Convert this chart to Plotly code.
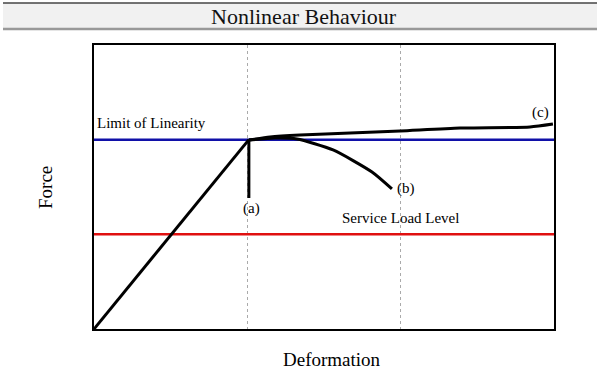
import plotly.graph_objects as go

# Data (axis units: deformation 0-3, force 0-3)
limit_of_linearity = 2.0
service_load_level = 1.0

linear_x = [0.0, 1.01]
linear_y = [0.0, 2.0]

curve_a_x = [1.01, 1.01]
curve_a_y = [2.0, 1.384]

curve_b_x = [1.011, 1.18, 1.324, 1.559, 1.813, 1.943]
curve_b_y = [1.996, 2.017, 2.007, 1.891, 1.658, 1.479]

curve_c_x = [1.011, 1.148, 1.343, 1.670, 1.996, 2.387, 2.843, 2.993]
curve_c_y = [1.996, 2.028, 2.049, 2.070, 2.092, 2.123, 2.134, 2.165]

label_texts = ["(a)", "(b)", "(c)", "Service Load Level", "Limit of Linearity"]
label_x = [1.03, 2.035, 2.909, 1.996, 0.378]
label_y = [1.268, 1.479, 2.282, 1.173, 2.176]

x_range = [0, 3]
y_range = [0, 3]

SERIF = "Liberation Serif, Times New Roman, serif"

fig = go.Figure()
fig.add_trace(go.Scatter(x=x_range, y=[service_load_level] * 2, mode="lines",
                         line=dict(color="#e01010", width=2.5), hoverinfo="skip"))
fig.add_trace(go.Scatter(x=x_range, y=[limit_of_linearity] * 2, mode="lines",
                         line=dict(color="#1010a8", width=2.5), hoverinfo="skip"))
for xs, ys in [(linear_x, linear_y), (curve_a_x, curve_a_y),
               (curve_b_x, curve_b_y), (curve_c_x, curve_c_y)]:
    fig.add_trace(go.Scatter(x=xs, y=ys, mode="lines",
                             line=dict(color="black", width=3, shape="spline", smoothing=0.6),
                             hoverinfo="skip"))

for t, x, y in zip(label_texts, label_x, label_y):
    fig.add_annotation(x=x, y=y, text=t, showarrow=False, xref="x", yref="y",
                       xanchor="center", yanchor="middle",
                       font=dict(family=SERIF, size=15, color="black"))

# header band
L, R, T, B = 94, 554, 45, 329
def px(x):
    return (x - L) / (R - L)
def py(y):
    return (B - y) / (B - T)

fig.add_shape(type="rect", xref="paper", yref="paper",
              x0=px(3), x1=px(597), y0=py(29), y1=py(3),
              fillcolor="#f1f1f1", line=dict(width=0), layer="below")
fig.add_shape(type="line", xref="paper", yref="paper",
              x0=px(3), x1=px(597), y0=py(3), y1=py(3),
              line=dict(color="#444444", width=1.5))
fig.add_shape(type="line", xref="paper", yref="paper",
              x0=px(3), x1=px(597), y0=py(29), y1=py(29),
              line=dict(color="#999999", width=2.5))
fig.add_annotation(x=px(304), y=py(16), xref="paper", yref="paper",
                   text="Nonlinear Behaviour", showarrow=False,
                   xanchor="center", yanchor="middle",
                   font=dict(family=SERIF, size=22, color="#111111"))
fig.add_annotation(x=px(45), y=py(188), xref="paper", yref="paper",
                   text="Force", showarrow=False, textangle=-90,
                   xanchor="center", yanchor="middle",
                   font=dict(family=SERIF, size=19, color="black"))
fig.add_annotation(x=px(332), y=py(359), xref="paper", yref="paper",
                   text="Deformation", showarrow=False,
                   xanchor="center", yanchor="middle",
                   font=dict(family=SERIF, size=19, color="black"))

fig.update_layout(
    width=600, height=371,
    margin=dict(l=L, r=600 - R, t=T, b=371 - B),
    paper_bgcolor="white", plot_bgcolor="white",
    showlegend=False,
    xaxis=dict(range=x_range, showline=True, mirror=True, linecolor="black", linewidth=2,
               tickvals=[1, 2], showticklabels=False, ticks="", zeroline=False,
               showgrid=True, gridcolor="#aaaaaa", gridwidth=1, griddash="3px,3px"),
    yaxis=dict(range=y_range, showline=True, mirror=True, linecolor="black", linewidth=2,
               showticklabels=False, ticks="", zeroline=False, showgrid=False),
)

fig.write_html("out.html", config={"displayModeBar": False},
               post_script="document.body.style.margin='0';")
